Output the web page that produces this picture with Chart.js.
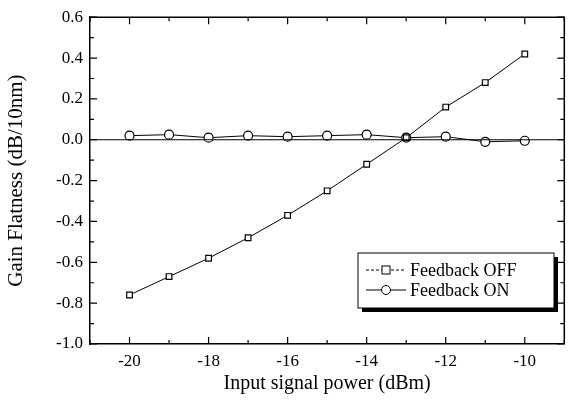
<!DOCTYPE html>
<html>
<head>
<meta charset="utf-8">
<script src="https://cdn.jsdelivr.net/npm/chart.js@4/dist/chart.umd.min.js"></script>
<style>
  html, body {margin: 0; padding: 0; background: #fff;}
  #wrap {width: 570px; height: 400px;}
</style>
</head>
<body>
<div id="wrap"><canvas id="flatness"></canvas></div>
<script>
const inputPower = [-20, -19, -18, -17, -16, -15, -14, -13, -12, -11, -10],
      feedbackOff = [-0.76, -0.67, -0.58, -0.48, -0.37, -0.25, -0.12, 0.01, 0.16, 0.28, 0.42],
      feedbackOn = [0.02, 0.025, 0.01, 0.02, 0.015, 0.02, 0.025, 0.01, 0.015, -0.01, -0.005],
      xTicks = [-20, -18, -16, -14, -12, -10],
      yTicks = [-1.0, -0.8, -0.6, -0.4, -0.2, 0.0, 0.2, 0.4, 0.6],
      seriesNames = ['Feedback OFF', 'Feedback ON'];

const serif = '"Liberation Serif", "DejaVu Serif", serif';

// frame, inward tick marks, zero line and the boxed legend
const decorations = {
    id: 'decorations',
    afterDatasetsDraw(chart) {
        const c = chart.ctx, x = chart.scales.x, y = chart.scales.y, a = chart.chartArea;
        c.save();
        c.strokeStyle = '#000';
        c.lineWidth = 1.5;
        c.beginPath();
        c.moveTo(a.left, a.top); c.lineTo(a.right, a.top); c.lineTo(a.right, a.bottom);
        c.stroke();
        c.lineWidth = 1.2;
        // zero line
        c.beginPath();
        c.moveTo(a.left, y.getPixelForValue(0));
        c.lineTo(a.right, y.getPixelForValue(0));
        c.stroke();
        // x ticks
        for (let v = -21; v <= -9; v++) {
            const px = x.getPixelForValue(v), len = v % 2 === 0 ? 7 : 4;
            c.beginPath();
            c.moveTo(px, a.bottom); c.lineTo(px, a.bottom - len);
            c.moveTo(px, a.top); c.lineTo(px, a.top + len);
            c.stroke();
        }
        // y ticks
        for (let i = 0; i <= 16; i++) {
            const v = -1 + i * 0.1, py = y.getPixelForValue(v), len = i % 2 === 0 ? 7 : 4;
            c.beginPath();
            c.moveTo(a.left, py); c.lineTo(a.left + len, py);
            c.moveTo(a.right, py); c.lineTo(a.right - len, py);
            c.stroke();
        }
        // legend
        const lx = 358, ly = 253, lw = 196, lh = 55;
        c.fillStyle = '#000';
        c.fillRect(lx + 4, ly + 4, lw, lh);
        c.fillStyle = '#fff';
        c.fillRect(lx, ly, lw, lh);
        c.lineWidth = 1;
        c.strokeRect(lx, ly, lw, lh);
        c.font = '18px ' + serif;
        c.textBaseline = 'middle';
        seriesNames.forEach((name, i) => {
            const cy = ly + 17 + i * 20;
            c.beginPath();
            c.setLineDash(i === 0 ? [3, 2] : []);
            c.moveTo(lx + 8, cy); c.lineTo(lx + 48, cy);
            c.stroke();
            c.setLineDash([]);
            c.fillStyle = '#fff';
            if (i === 0) {
                c.fillRect(lx + 24, cy - 4, 8, 8);
                c.strokeRect(lx + 24, cy - 4, 8, 8);
            } else {
                c.beginPath();
                c.arc(lx + 28, cy, 4.5, 0, Math.PI * 2);
                c.fill(); c.stroke();
            }
            c.fillStyle = '#000';
            c.fillText(name, lx + 52, cy + 1);
        });
        c.restore();
    }
};

new Chart(document.getElementById('flatness'), {
    type: 'line',
    data: {
        datasets: [
            {
                label: seriesNames[0],
                data: inputPower.map((v, i) => ({x: v, y: feedbackOff[i]})),
                borderColor: '#000',
                borderWidth: 1,
                pointStyle: 'rect',
                pointRadius: 4,
                pointBackgroundColor: '#fff',
                pointBorderColor: '#000',
                pointBorderWidth: 1.2
            },
            {
                label: seriesNames[1],
                data: inputPower.map((v, i) => ({x: v, y: feedbackOn[i]})),
                borderColor: '#000',
                borderWidth: 1,
                pointStyle: 'circle',
                pointRadius: 4.5,
                pointBackgroundColor: '#fff',
                pointBorderColor: '#000',
                pointBorderWidth: 1.2
            }
        ]
    },
    options: {
        responsive: true,
        maintainAspectRatio: false,
        animation: false,
        layout: {padding: {top: 15, right: 2, left: 0, bottom: 0}},
        plugins: {legend: {display: false}, tooltip: {enabled: false}},
        scales: {
            x: {
                type: 'linear',
                min: -21,
                max: -9,
                afterBuildTicks: s => { s.ticks = xTicks.map(v => ({value: v})); },
                afterFit: s => { s.height = 56; },
                grid: {display: false, drawTicks: false},
                border: {color: '#000', width: 1.5},
                ticks: {color: '#000', font: {family: serif, size: 17}, padding: 7},
                title: {display: true, text: 'Input signal power (dBm)', color: '#000',
                        font: {family: serif, size: 20}, padding: {top: 0}}
            },
            y: {
                min: -1.0,
                max: 0.6,
                afterBuildTicks: s => { s.ticks = yTicks.map(v => ({value: v})); },
                afterFit: s => { s.width = 90; },
                grid: {display: false, drawTicks: false},
                border: {color: '#000', width: 1.5},
                ticks: {color: '#000', font: {family: serif, size: 17}, padding: 7,
                        callback: v => v.toFixed(1)},
                title: {display: true, text: 'Gain Flatness (dB/10nm)', color: '#000',
                        font: {family: serif, size: 21}, padding: {bottom: 2}}
            }
        }
    },
    plugins: [decorations]
});
</script>
</body>
</html>
